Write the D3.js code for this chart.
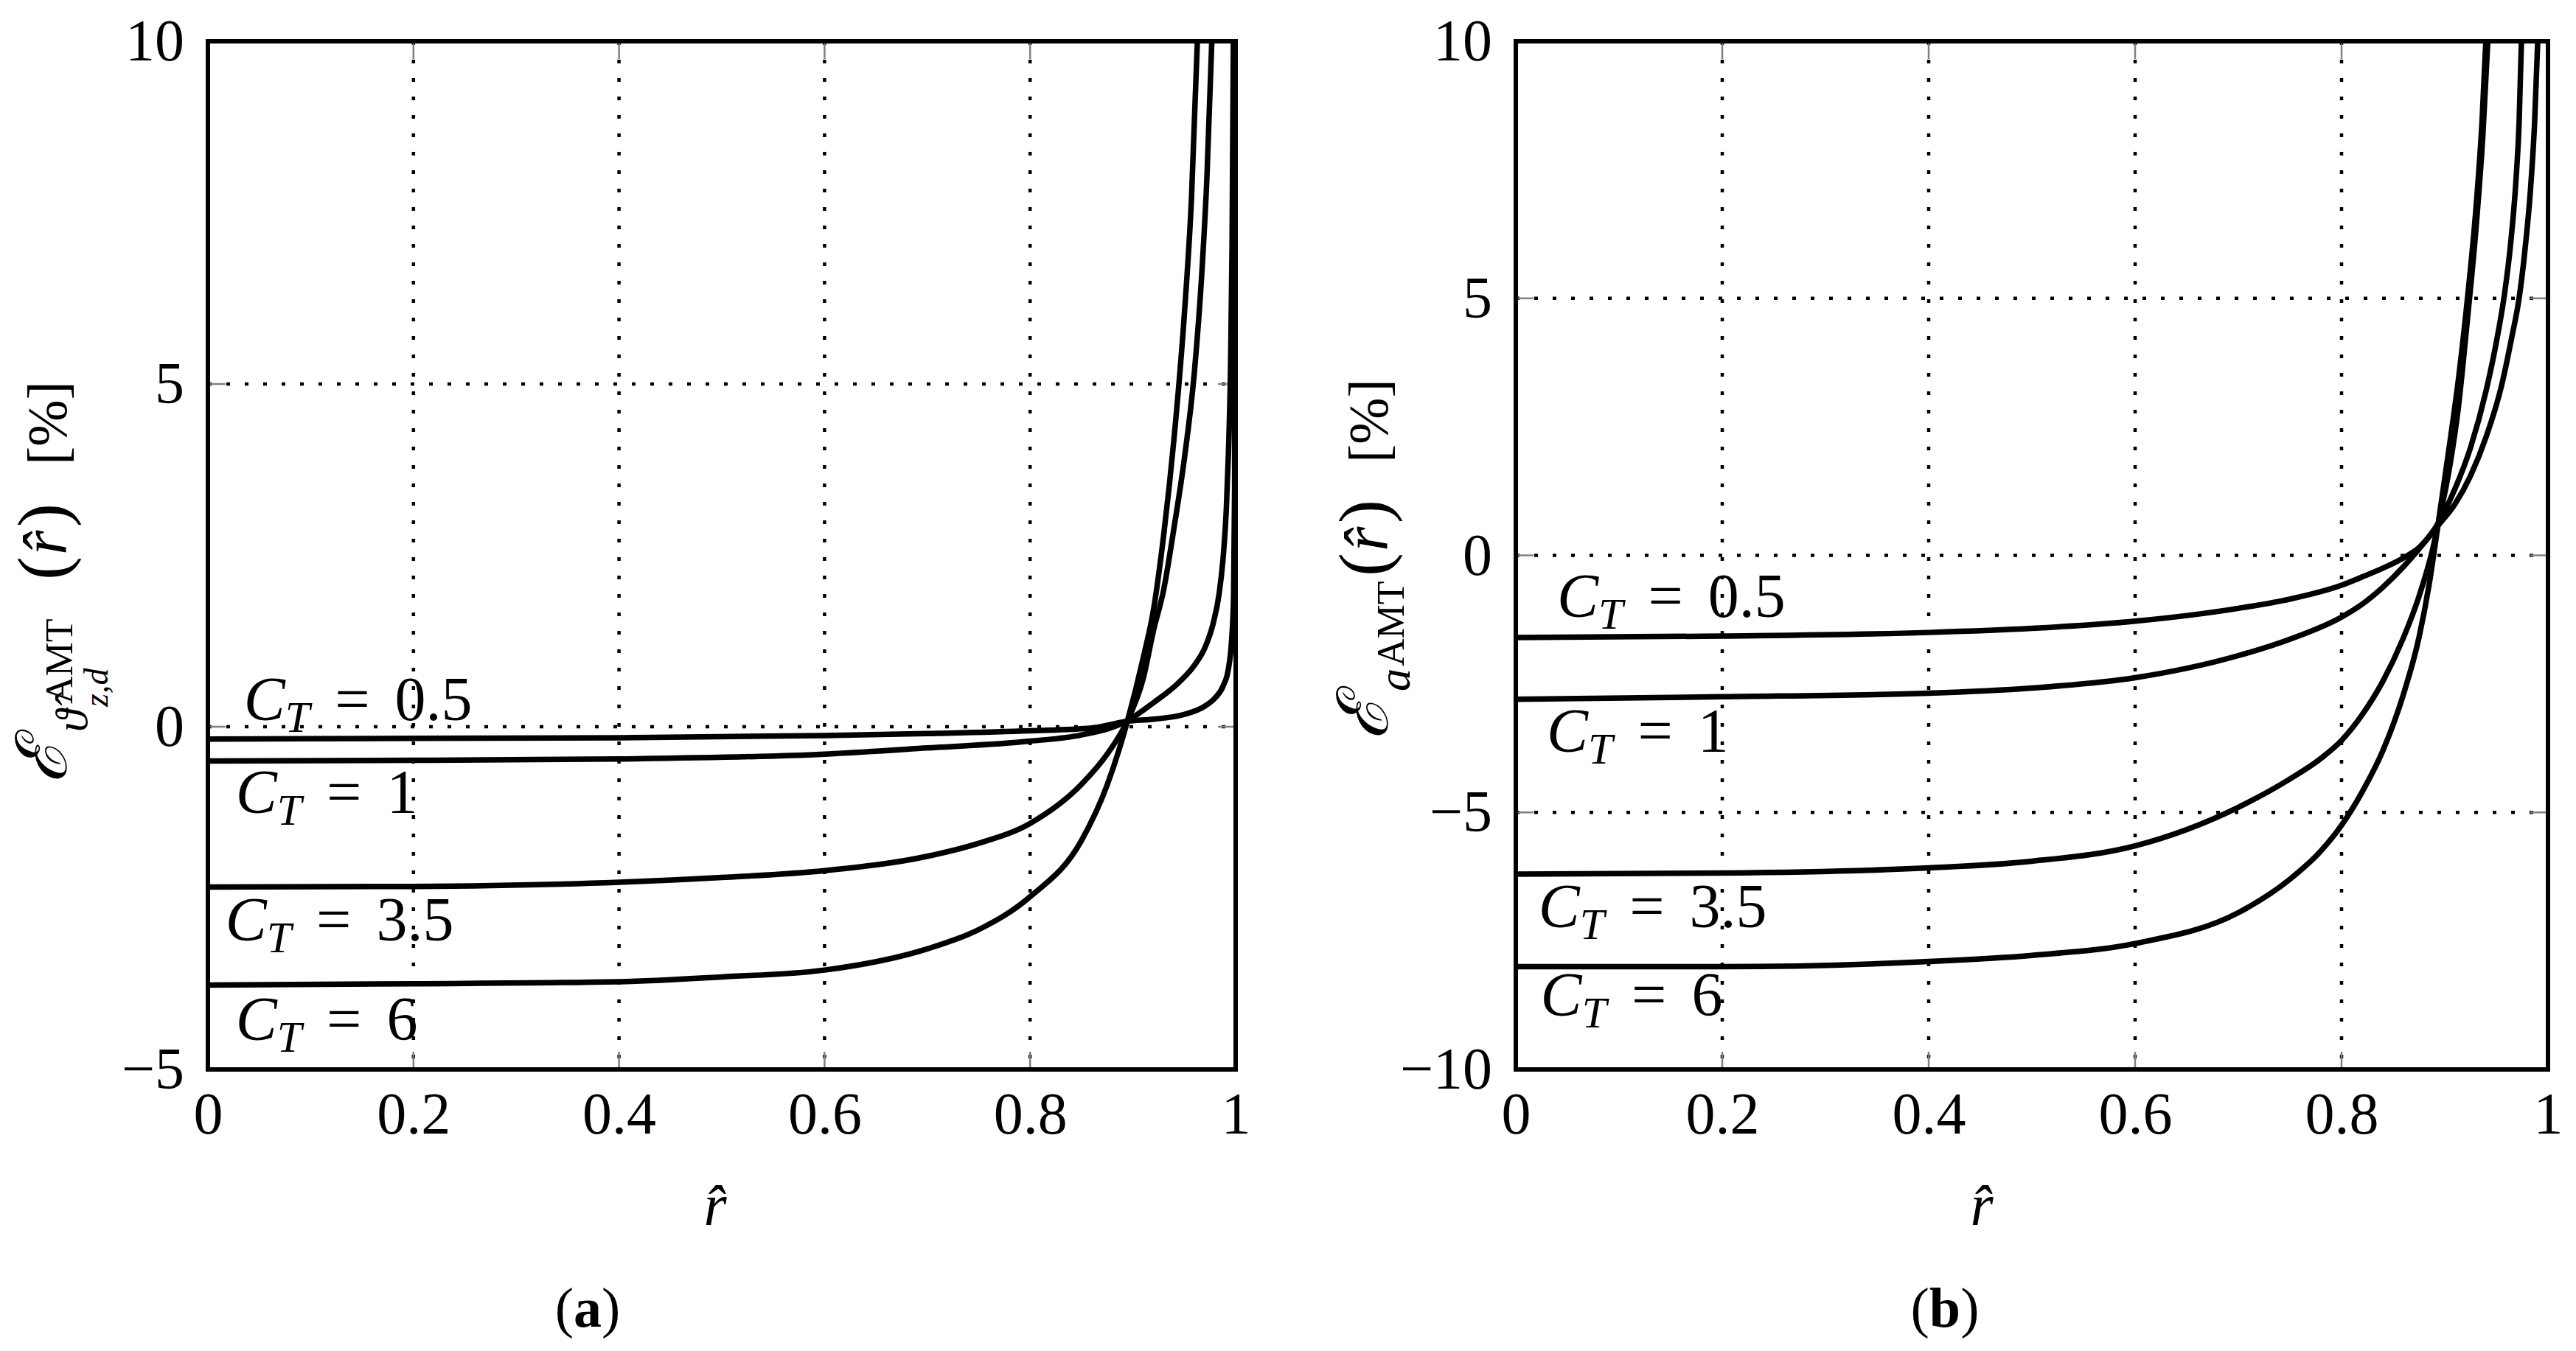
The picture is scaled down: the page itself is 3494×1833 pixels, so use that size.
<!DOCTYPE html>
<html>
<head>
<meta charset="utf-8">
<script src="https://cdn.jsdelivr.net/npm/d3@7"></script>
<style>
  body { margin: 0; background: white; }
  text { font-family: "Liberation Serif", "DejaVu Serif", serif; fill: black; }
</style>
</head>
<body>
<svg width="3494" height="1833"></svg>
<script>
// tick values
var xTicks = [0, 0.2, 0.4, 0.6, 0.8, 1];
var yTicksA = [-5, 0, 5, 10];
var yTicksB = [-10, -5, 0, 5, 10];

// C_T values of the four curves
var ctValues = ["0.5", "1", "3.5", "6"];

// panel (a): error of the induced axial velocity, [r, error %]
var errA_ct05 = [[0, -0.18], [0.2, -0.17], [0.4, -0.16], [0.6, -0.13], [0.7, -0.10], [0.8, -0.06], [0.86, -0.02], [0.895, 0.08], [0.92, 0.11], [0.95, 0.18], [0.97, 0.30], [0.98, 0.42], [0.988, 0.60], [0.993, 0.85], [0.996, 1.25], [0.998, 1.9], [0.999, 3.5], [0.9996, 10.5]];
var errA_ct1 = [[0, -0.50], [0.2, -0.49], [0.4, -0.47], [0.6, -0.40], [0.7, -0.31], [0.8, -0.21], [0.85, -0.12], [0.895, 0.09], [0.92, 0.35], [0.945, 0.65], [0.96, 0.90], [0.97, 1.15], [0.978, 1.5], [0.984, 1.95], [0.988, 2.5], [0.991, 3.2], [0.993, 4.0], [0.995, 5.2], [0.9965, 7.0], [0.998, 10.5]];
var errA_ct35 = [[0, -2.34], [0.2, -2.33], [0.4, -2.27], [0.5, -2.20], [0.6, -2.10], [0.7, -1.89], [0.75, -1.70], [0.8, -1.41], [0.85, -0.84], [0.875, -0.40], [0.895, 0.10], [0.91, 0.70], [0.92, 1.4], [0.93, 2.0], [0.94, 2.9], [0.95, 3.9], [0.96, 5.2], [0.967, 6.6], [0.972, 8.0], [0.978, 10.5]];
var errA_ct6 = [[0, -3.77], [0.2, -3.75], [0.4, -3.72], [0.5, -3.65], [0.6, -3.55], [0.7, -3.24], [0.75, -2.96], [0.8, -2.48], [0.85, -1.66], [0.875, -0.85], [0.895, 0.10], [0.91, 1.0], [0.92, 1.7], [0.93, 2.8], [0.94, 4.2], [0.95, 6.0], [0.957, 7.7], [0.964, 10.5]];

// panel (b): error of the axial induction factor, [r, error %]
var errB_ct05 = [[0, -1.60], [0.2, -1.57], [0.4, -1.50], [0.5, -1.42], [0.6, -1.28], [0.7, -1.03], [0.75, -0.85], [0.8, -0.58], [0.82, -0.42], [0.84, -0.25], [0.86, -0.05], [0.875, 0.15], [0.8935, 0.58], [0.91, 1.0], [0.925, 1.55], [0.94, 2.3], [0.955, 3.3], [0.965, 4.25], [0.972, 5.0], [0.978, 6.0], [0.983, 7.1], [0.987, 8.4], [0.991, 10.5]];
var errB_ct1 = [[0, -2.80], [0.2, -2.75], [0.4, -2.68], [0.5, -2.58], [0.6, -2.38], [0.7, -1.95], [0.75, -1.63], [0.8, -1.20], [0.82, -0.95], [0.84, -0.62], [0.86, -0.22], [0.874, 0.10], [0.8935, 0.62], [0.91, 1.3], [0.925, 2.1], [0.94, 3.2], [0.95, 4.15], [0.958, 5.1], [0.964, 6.1], [0.969, 7.3], [0.972, 8.4], [0.975, 10.5]];
var errB_ct35 = [[0, -6.20], [0.2, -6.18], [0.4, -6.08], [0.5, -5.95], [0.6, -5.65], [0.7, -4.90], [0.75, -4.35], [0.78, -3.95], [0.8, -3.60], [0.82, -3.10], [0.84, -2.45], [0.86, -1.60], [0.875, -0.80], [0.888, 0.10], [0.8935, 0.60], [0.905, 1.75], [0.913, 2.85], [0.922, 4.6], [0.93, 6.3], [0.937, 8.2], [0.943, 10.5]];
var errB_ct6 = [[0, -8.00], [0.2, -8.00], [0.4, -7.90], [0.5, -7.78], [0.6, -7.55], [0.7, -6.95], [0.75, -6.30], [0.78, -5.75], [0.8, -5.25], [0.82, -4.60], [0.84, -3.80], [0.86, -2.70], [0.875, -1.60], [0.885, -0.55], [0.8935, 0.60], [0.905, 2.2], [0.914, 3.55], [0.922, 5.0], [0.93, 6.7], [0.936, 8.4], [0.941, 10.5]];

// where the C_T labels sit, in data units [r, error]
var labelPosA = [[0.035, 0.1], [0.027, -1.26], [0.017, -3.12], [0.027, -4.57]];
var labelPosB = [[0.04, -1.2], [0.03, -3.82], [0.022, -7.23], [0.024, -8.95]];

var svg = d3.select("svg");
svg.append("rect").attr("width", 3494).attr("height", 1833).attr("fill", "white");

var plotTop = 56, plotBottom = 1451;

function fmt(d) { return d < 0 ? "\u2212" + Math.abs(d) : String(d); }

function drawPanel(id, left, width, yDomain, yTicks, series, labelPos) {
  var x = d3.scaleLinear().domain([0, 1]).range([left, left + width]);
  var y = d3.scaleLinear().domain(yDomain).range([plotBottom, plotTop]);
  var g = svg.append("g");

  g.append("clipPath").attr("id", "clip" + id)
    .append("rect")
    .attr("x", x(0)).attr("y", plotTop)
    .attr("width", x(1) - x(0)).attr("height", plotBottom - plotTop);

  // dotted grid, inner lines only
  g.selectAll(".gx").data(xTicks.slice(1, -1)).enter().append("line")
    .attr("x1", function(d) { return x(d); }).attr("x2", function(d) { return x(d); })
    .attr("y1", plotTop).attr("y2", plotBottom)
    .attr("stroke", "black").attr("stroke-width", 4.5).attr("stroke-dasharray", "5,20");
  g.selectAll(".gy").data(yTicks.slice(1, -1)).enter().append("line")
    .attr("x1", x(0)).attr("x2", x(1))
    .attr("y1", function(d) { return y(d); }).attr("y2", function(d) { return y(d); })
    .attr("stroke", "black").attr("stroke-width", 4.5).attr("stroke-dasharray", "5,20");

  // small grey tick marks inside the frame, both sides
  var tk = 24;
  xTicks.forEach(function(d) {
    g.append("line").attr("x1", x(d)).attr("x2", x(d)).attr("y1", plotBottom).attr("y2", plotBottom - tk)
      .attr("stroke", "#808080").attr("stroke-width", 2.5);
    g.append("line").attr("x1", x(d)).attr("x2", x(d)).attr("y1", plotTop).attr("y2", plotTop + tk)
      .attr("stroke", "#808080").attr("stroke-width", 2.5);
  });
  yTicks.forEach(function(d) {
    g.append("line").attr("x1", x(0)).attr("x2", x(0) + tk).attr("y1", y(d)).attr("y2", y(d))
      .attr("stroke", "#808080").attr("stroke-width", 2.5);
    g.append("line").attr("x1", x(1)).attr("x2", x(1) - tk).attr("y1", y(d)).attr("y2", y(d))
      .attr("stroke", "#808080").attr("stroke-width", 2.5);
  });

  // curves
  var line = d3.line()
    .x(function(d) { return x(d[0]); })
    .y(function(d) { return y(d[1]); })
    .curve(d3.curveMonotoneX);
  g.append("g").attr("clip-path", "url(#clip" + id + ")")
    .selectAll("path").data(series).enter().append("path")
    .attr("d", line)
    .attr("fill", "none").attr("stroke", "black").attr("stroke-width", 7.5)
    .attr("stroke-linejoin", "round");

  // frame
  g.append("rect")
    .attr("x", x(0)).attr("y", plotTop)
    .attr("width", x(1) - x(0)).attr("height", plotBottom - plotTop)
    .attr("fill", "none").attr("stroke", "black").attr("stroke-width", 6);

  // axes: labels only
  var ax = g.append("g").attr("transform", "translate(0," + plotBottom + ")")
    .call(d3.axisBottom(x).tickValues(xTicks).tickSize(0).tickPadding(30).tickFormat(fmt));
  var ay = g.append("g").attr("transform", "translate(" + left + ",0)")
    .call(d3.axisLeft(y).tickValues(yTicks).tickSize(0).tickPadding(32).tickFormat(fmt));
  [ax, ay].forEach(function(a) {
    a.select(".domain").remove();
    a.selectAll("text").attr("font-size", 80).attr("font-family", "Liberation Serif");
  });

  // C_T labels
  labelPos.forEach(function(p, i) {
    var t = g.append("text").attr("x", x(p[0])).attr("y", y(p[1])).attr("font-size", 84);
    t.append("tspan").attr("font-style", "italic").text("C");
    t.append("tspan").attr("font-style", "italic").attr("font-size", 60).attr("dy", 16).text("T");
    t.append("tspan").attr("dy", -16).attr("dx", 34).text("=");
    t.append("tspan").attr("dx", 34).text(ctValues[i]);
  });

  return { x: x, y: y };
}

function yLabel(px, py, parts) {
  var g = svg.append("g").attr("transform", "translate(" + px + "," + py + ") rotate(-90)");
  parts.forEach(function(p) {
    g.append("text").attr("x", p[1]).attr("y", p[2])
      .attr("font-size", p[3])
      .attr("font-style", p[4] ? "italic" : "normal")
      .text(p[0]);
  });
}

var pa = drawPanel("a", 282, 1394, [-5, 10], yTicksA, [errA_ct05, errA_ct1, errA_ct35, errA_ct6], labelPosA);
var pb = drawPanel("b", 2056, 1400, [-10, 10], yTicksB, [errB_ct05, errB_ct1, errB_ct35, errB_ct6], labelPosB);

// y axis titles: [text, along, across, size, italic]
yLabel(90, 1063, [
  ["\u2130", 0, 0, 96, true],
  ["\u03D1\u0302", 70, 28, 62, true],
  ["AMT", 108, 8, 52, false],
  ["z,d", 104, 56, 46, true],
  ["(", 276, 0, 96, false],
  ["r\u0302", 310, 0, 86, true],
  [")", 348, 0, 96, false],
  ["[%]", 432, 0, 76, false]
]);
yLabel(1882, 1004, [
  ["\u2130", 0, 0, 96, true],
  ["a", 66, 30, 62, true],
  ["AMT", 100, 22, 52, false],
  ["(", 222, 0, 96, false],
  ["r\u0302", 256, 0, 86, true],
  [")", 294, 0, 96, false],
  ["[%]", 376, 0, 76, false]
]);

// x axis titles
svg.append("text").attr("x", 970).attr("y", 1662).attr("text-anchor", "middle")
  .attr("font-size", 80).attr("font-style", "italic").text("r\u0302");
svg.append("text").attr("x", 2688).attr("y", 1662).attr("text-anchor", "middle")
  .attr("font-size", 80).attr("font-style", "italic").text("r\u0302");

// sub-figure captions
function caption(cx, letter) {
  var t = svg.append("text").attr("x", cx).attr("y", 1800).attr("text-anchor", "middle").attr("font-size", 76);
  t.append("tspan").text("(");
  t.append("tspan").attr("font-weight", "bold").text(letter);
  t.append("tspan").text(")");
}
caption(797, "a");
caption(2638, "b");
</script>
</body>
</html>
